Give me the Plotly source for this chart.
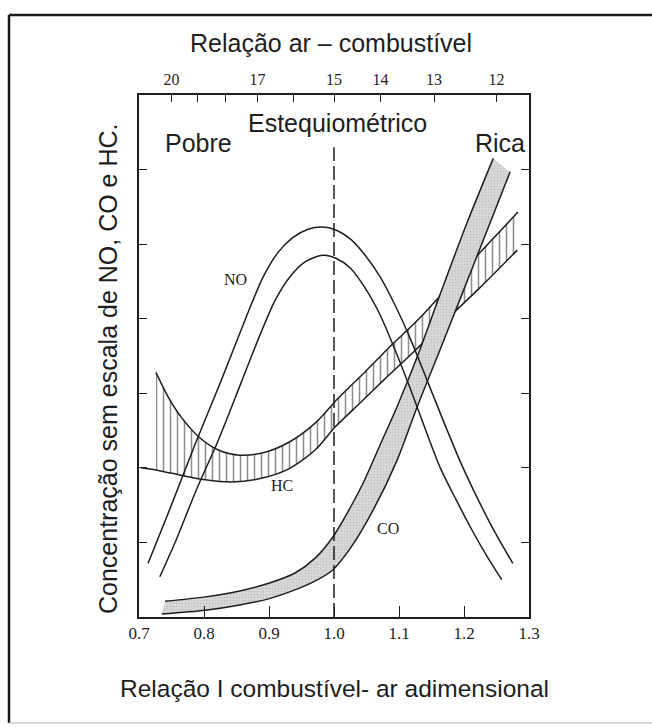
import plotly.graph_objects as go

# ---- data: equivalence ratio (fuel/air) vs. unscaled concentration ----
# NO: two boundary curves of the NO band
no_outer_phi = [0.714, 0.748, 0.786, 0.825, 0.863, 0.891, 0.914, 0.937, 0.960, 0.982, 1.003,
                1.025, 1.048, 1.071, 1.094, 1.117, 1.143, 1.171, 1.198, 1.240, 1.275]
no_outer_val = [0.72, 1.46, 2.31, 3.14, 3.98, 4.56, 4.89, 5.09, 5.20, 5.23, 5.19,
                5.07, 4.85, 4.56, 4.18, 3.74, 3.18, 2.57, 2.01, 1.26, 0.72]
no_inner_phi = [0.732, 0.757, 0.788, 0.822, 0.857, 0.886, 0.909, 0.932, 0.955, 0.982, 1.003,
                1.025, 1.048, 1.071, 1.094, 1.117, 1.140, 1.163, 1.188, 1.212, 1.235, 1.258]
no_inner_val = [0.54, 1.03, 1.70, 2.37, 3.14, 3.78, 4.24, 4.56, 4.76, 4.85, 4.81,
                4.68, 4.41, 4.05, 3.58, 3.07, 2.53, 2.01, 1.57, 1.17, 0.82, 0.50]

# HC: upper and lower limits of the hatched band
hc_upper_phi = [0.726, 0.745, 0.765, 0.794, 0.822, 0.855, 0.894, 0.932, 0.971, 1.006,
                1.048, 1.089, 1.132, 1.178, 1.225, 1.283]
hc_upper_val = [3.28, 2.95, 2.68, 2.40, 2.24, 2.17, 2.21, 2.35, 2.60, 2.93,
                3.29, 3.65, 4.01, 4.45, 4.89, 5.43]
hc_lower_phi = [0.703, 0.726, 0.749, 0.802, 0.842, 0.883, 0.929, 0.971, 1.002, 1.040,
                1.078, 1.122, 1.178, 1.225, 1.282]
hc_lower_val = [2.00, 1.97, 1.93, 1.84, 1.81, 1.85, 1.98, 2.24, 2.55, 2.87,
                3.19, 3.55, 4.03, 4.42, 4.92]

# CO: left (upper) and right (lower) limits of the shaded band
co_left_phi = [0.740, 0.802, 0.855, 0.902, 0.940, 0.971, 0.998, 1.022, 1.045, 1.071,
               1.097, 1.129, 1.163, 1.203, 1.245]
co_left_val = [0.21, 0.27, 0.35, 0.46, 0.59, 0.79, 1.07, 1.42, 1.80, 2.31,
               2.82, 3.51, 4.32, 5.25, 6.15]
co_right_phi = [0.735, 0.802, 0.855, 0.902, 0.945, 0.975, 0.998, 1.025, 1.060, 1.097,
                1.128, 1.163, 1.197, 1.234, 1.271]
co_right_val = [0.04, 0.09, 0.16, 0.25, 0.38, 0.50, 0.63, 0.92, 1.43, 2.10,
                2.82, 3.58, 4.33, 5.15, 5.97]

# axis ticks
phi_ticks = [0.7, 0.8, 0.9, 1.0, 1.1, 1.2, 1.3]
phi_labels = ["0.7", "0.8", "0.9", "1.0", "1.1", "1.2", "1.3"]
afr_ticks = [20, 19, 18, 17, 16, 15, 14, 13, 12]
afr_labels = ["20", "", "", "17", "", "15", "14", "13", "12"]
afr_reference = 15.0  # air/fuel ratio at phi = 1
conc_ticks = [1, 2, 3, 4, 5, 6]

INK = "#1e1e1e"
SANS = "Liberation Sans, Arial, sans-serif"
SERIF = "Liberation Serif, Times New Roman, serif"
LINE = dict(color=INK, width=1.5, shape="spline", smoothing=0.8)

# plot-area geometry in pixels (used to place titles and the outer frame)
W, H = 652, 727
ML, MR, MT, MB = 139, 123, 95, 110
PW, PH = W - ML - MR, H - MT - MB


def px(x, y):
    """pixel position on the page -> paper coordinates"""
    return (x - ML) / PW, (H - MB - y) / PH


fig = go.Figure()

# HC hatched band
start = 1  # the hatching begins where the upper limit starts
fig.add_trace(go.Scatter(x=hc_lower_phi[start:], y=hc_lower_val[start:], mode="lines",
                         line=dict(width=0, shape="spline", smoothing=0.8), hoverinfo="skip"))
fig.add_trace(go.Scatter(x=hc_upper_phi, y=hc_upper_val, mode="lines", line=LINE,
                         fill="tonexty", fillcolor="rgba(255,255,255,0)",
                         fillpattern=dict(shape="|", fgcolor=INK, bgcolor="rgba(255,255,255,0)",
                                          size=7, solidity=0.22),
                         hoverinfo="skip"))
fig.add_trace(go.Scatter(x=hc_lower_phi, y=hc_lower_val, mode="lines", line=LINE, hoverinfo="skip"))

# CO shaded band
fig.add_trace(go.Scatter(x=co_right_phi, y=co_right_val, mode="lines", line=LINE, hoverinfo="skip"))
fig.add_trace(go.Scatter(x=co_left_phi, y=co_left_val, mode="lines", line=LINE,
                         fill="tonexty", fillcolor="#d4d4d4",
                         fillpattern=dict(shape=".", fgcolor="#a6a6a6", bgcolor="#d8d8d8",
                                          size=3, solidity=0.25),
                         hoverinfo="skip"))

# NO curves
fig.add_trace(go.Scatter(x=no_outer_phi, y=no_outer_val, mode="lines", line=LINE, hoverinfo="skip"))
fig.add_trace(go.Scatter(x=no_inner_phi, y=no_inner_val, mode="lines", line=LINE, hoverinfo="skip"))

# carrier for the air/fuel axis on top
afr_pos = [afr_reference / a for a in afr_ticks]
fig.add_trace(go.Scatter(x=afr_pos, y=[-10] * len(afr_pos), xaxis="x2", mode="markers",
                         marker=dict(opacity=0), hoverinfo="skip"))

# stoichiometric line
fig.add_shape(type="line", xref="x", yref="y", x0=1.0, x1=1.0, y0=0, y1=6.3,
              line=dict(color=INK, width=1.5, dash="14px,5px"))

# outer frame around the figure
x_left, y_top = px(9, 15)
x_right, y_bot = px(W + 10, 723)
fig.add_shape(type="line", xref="paper", yref="paper", x0=x_left, x1=x_right, y0=y_top, y1=y_top,
              line=dict(color="#1a1a1a", width=2.5))
fig.add_shape(type="line", xref="paper", yref="paper", x0=x_left, x1=x_left, y0=y_top, y1=y_bot,
              line=dict(color="#1a1a1a", width=2.5))
fig.add_shape(type="line", xref="paper", yref="paper", x0=x_left, x1=x_right, y0=y_bot, y1=y_bot,
              line=dict(color="#c8c8c8", width=1.5))

# in-plot labels
for text, x, y, size, family in [
    ("NO", 0.849, 4.52, 16, SERIF),
    ("HC", 0.920, 1.77, 16, SERIF),
    ("CO", 1.083, 1.19, 16, SERIF),
    ("Estequiométrico", 1.005, 6.62, 25, SANS),
    ("Pobre", 0.792, 6.35, 25, SANS),
    ("Rica", 1.255, 6.35, 25, SANS),
]:
    fig.add_annotation(x=x, y=y, xref="x", yref="y", text=text, showarrow=False,
                       font=dict(family=family, size=size, color=INK),
                       xanchor="center", yanchor="middle")

# titles
for text, (x, y), angle, size in [
    ("Relação ar – combustível", px(331, 43), 0, 25),
    ("Relação I combustível- ar adimensional", px(334, 688), 0, 24.5),
    ("Concentração sem escala de NO, CO e HC.", px(108, 369), -90, 25),
]:
    fig.add_annotation(x=x, y=y, xref="paper", yref="paper", text=text, textangle=angle,
                       showarrow=False, xanchor="center", yanchor="middle",
                       font=dict(family=SANS, size=size, color=INK))

axis_line = dict(showline=True, linecolor=INK, linewidth=1.6, showgrid=False, zeroline=False)
fig.update_layout(
    width=W, height=H,
    margin=dict(l=ML, r=MR, t=MT, b=MB, autoexpand=False),
    paper_bgcolor="white", plot_bgcolor="white",
    showlegend=False,
    xaxis=dict(range=[0.7, 1.3], tickvals=phi_ticks, ticktext=phi_labels,
               ticks="inside", ticklen=11, tickwidth=1.4, tickcolor=INK, mirror=True,
               tickfont=dict(family=SERIF, size=17, color=INK), **axis_line),
    xaxis2=dict(range=[0.7, 1.3], overlaying="x", side="top", anchor="y",
                tickvals=afr_pos, ticktext=afr_labels,
                ticks="inside", ticklen=7, tickwidth=1.4, tickcolor=INK,
                ticklabelstandoff=6,
                showgrid=False, zeroline=False, showline=False,
                tickfont=dict(family=SERIF, size=16, color=INK)),
    yaxis=dict(range=[0, 7], tickvals=conc_ticks, showticklabels=False,
               ticks="inside", ticklen=8, tickwidth=1.4, tickcolor=INK, mirror="ticks",
               **axis_line),
)

fig.write_html("out.html")
